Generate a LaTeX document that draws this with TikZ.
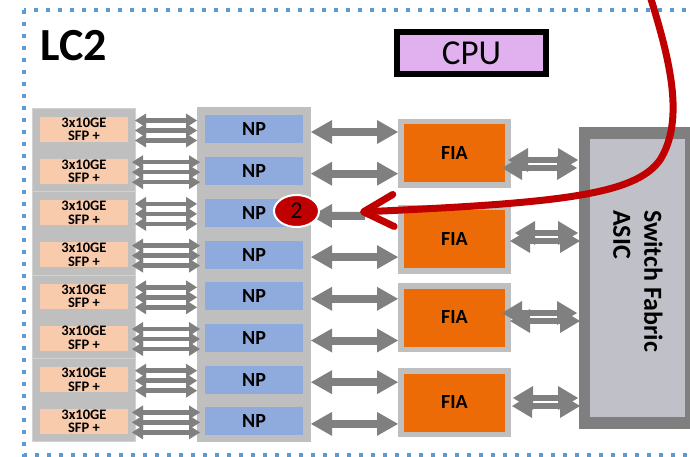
\documentclass[tikz,border=0pt]{standalone}
\usepackage{fontspec}
\setmainfont{Carlito}
\usetikzlibrary{arrows.meta,shapes.geometric,calc}
\definecolor{dotblue}{HTML}{5B9BD5}
\definecolor{lgray}{HTML}{BFBFBF}
\definecolor{peach}{HTML}{F8CBAD}
\definecolor{npblue}{HTML}{8FAADC}
\definecolor{fiaorange}{HTML}{EC6B06}
\definecolor{arrgray}{HTML}{808080}
\definecolor{swdark}{HTML}{7F7F7F}
\definecolor{swlight}{RGB}{192,192,200}
\definecolor{cpupurple}{RGB}{224,177,238}
\definecolor{darkred}{HTML}{C00000}
\begin{document}
\begin{tikzpicture}[x=1pt,y=-1pt,
 box/.style={rectangle,inner sep=0pt,outer sep=0pt,draw=none},
 grp/.style={box,fill=lgray},
 sfpbox/.style={box,fill=peach,minimum width=88pt,minimum height=25pt,align=center,font=\bfseries\fontsize{14.5}{13.5}\selectfont},
 npbox/.style={box,fill=npblue,minimum width=98pt,minimum height=28pt,font=\bfseries\fontsize{20}{21}\selectfont},
 fiaouter/.style={grp,minimum width=113pt,minimum height=69pt},
 fiabox/.style={box,fill=fiaorange,minimum width=101pt,minimum height=58pt,font=\bfseries\fontsize{20}{21}\selectfont},
 thinarr/.style={draw=arrgray,line width=4.5pt,{Triangle[length=11pt,width=14pt,line width=0pt]}-{Triangle[length=11pt,width=14pt,line width=0pt]}},
 bigarr/.style={draw=arrgray,line width=8pt,{Triangle[length=21pt,width=24pt,line width=0pt]}-{Triangle[length=21pt,width=24pt,line width=0pt]}},
 bigarrleft/.style={draw=arrgray,line width=8pt,{Triangle[length=21pt,width=24pt,line width=0pt]}-},
 midarr/.style={draw=arrgray,line width=6pt,{Triangle[length=20pt,width=24pt,line width=0pt]}-{Triangle[length=20pt,width=24pt,line width=0pt]}},
 redarr/.style={draw=darkred,line width=7pt,-{Straight Barb[length=30pt,width=32pt,round]}},
]
\useasboundingbox (0,0) rectangle (690,457);
% dotted frame
\draw[dotblue,line width=4pt,dash pattern=on 4pt off 8pt] (24,10) rectangle (702,455);
% title
\node[anchor=base west,inner sep=0pt,font=\bfseries\fontsize{46}{46}\selectfont] (lc2) at (40,61) {LC2};
% CPU
\node[box,draw=black,line width=6pt,fill=cpupurple,minimum width=149pt,minimum height=42pt,font=\fontsize{35}{35}\selectfont] (cpu) at (471.5,53) {CPU};
% SFP groups
\foreach \k in {1,...,4}{
  \node[grp,draw=gray!35,line width=0.6pt,minimum width=103pt,minimum height=83.4pt] (sfpgrp\k) at (83.5,{108+83.4*(\k-0.5)}) {};
}
% NP group
\node[grp,minimum width=114pt,minimum height=335pt] (npgrp) at (254,274.5) {};
% rows
\foreach \i in {1,...,8}{
  \pgfmathsetmacro\yy{129.5+41.7*(\i-1)}
  \node[sfpbox] (sfp\i) at (84,\yy) {3x10GE\\SFP +};
  \node[npbox] (np\i) at (254,\yy) {NP};
}
% FIA
\foreach \k/\yy in {1/153.5,2/239,3/317.5,4/402.5}{
  \node[fiaouter] (fiagrp\k) at (454.5,\yy) {};
  \node[fiabox] (fia\k) at (454.5,\yy) {FIA};
}
% switch fabric
\node[box,fill=swdark,minimum width=118pt,minimum height=302pt] (sw) at (638,278) {};
\node[box,fill=swlight,minimum width=95pt,minimum height=278pt] (swin) at (637.5,278) {};
\node[rotate=-90,align=left,inner sep=0pt,font=\bfseries\fontsize{26}{31}\selectfont] (swlabel) at (638,281) {Switch Fabric\\ASIC};
% SFP - NP arrows
\foreach \i in {1,...,8}{
  \pgfmathsetmacro\ext{mod(\i,2)==0 ? 3 : 0}
  \foreach \o in {-9,1,11}{
    \draw[thinarr] ($(sfpgrp1.east |- sfp\i.center)+(-\ext,\o)$) -- ($(npgrp.west |- sfp\i.center)+(\ext,\o)$);
  }
}
% NP - FIA arrows
\foreach \i in {1,2,4,5,6,7,8}{
  \draw[bigarr] ($(npgrp.east |- np\i.center)+(0,2.5)$) -- ($(fiagrp1.west |- np\i.center)+(0,2.5)$);
}
\coordinate (redstart) at (650,-4);
\coordinate (redtip) at (360,212);
\draw[bigarrleft] ($(npgrp.east |- np3.center)+(0,3)$) -- ($(redtip)+(5,4)$);
% FIA - switch arrows
\foreach \k/\yc/\ul/\ur/\ll/\lr in {1/164/3/1/9/2, 2/237/-4/1/1/-1, 3/317/9/2/1/-1, 4/402/-2/1/-1/-1}{
  \draw[midarr] ($(fiagrp\k.east |- 0,\yc)+(-\ul,-4)$) -- ($(sw.west |- 0,\yc)+(-\ur,-4)$);
  \draw[midarr] ($(fiagrp\k.east |- 0,\yc)+(-\ll,4)$) -- ($(sw.west |- 0,\yc)+(-\lr,4)$);
}
% badge
\node[ellipse,fill=darkred,draw=white,line width=2pt,minimum width=45pt,minimum height=32pt,inner sep=0pt,font=\fontsize{24}{24}\selectfont] (badge) at (296.5,211) {2};
% red path
\draw[redarr] (redstart) .. controls (670,60) and (685,120) .. (660,160) .. controls (635,195) and (560,203) .. (redtip);
\end{tikzpicture}
\end{document}
